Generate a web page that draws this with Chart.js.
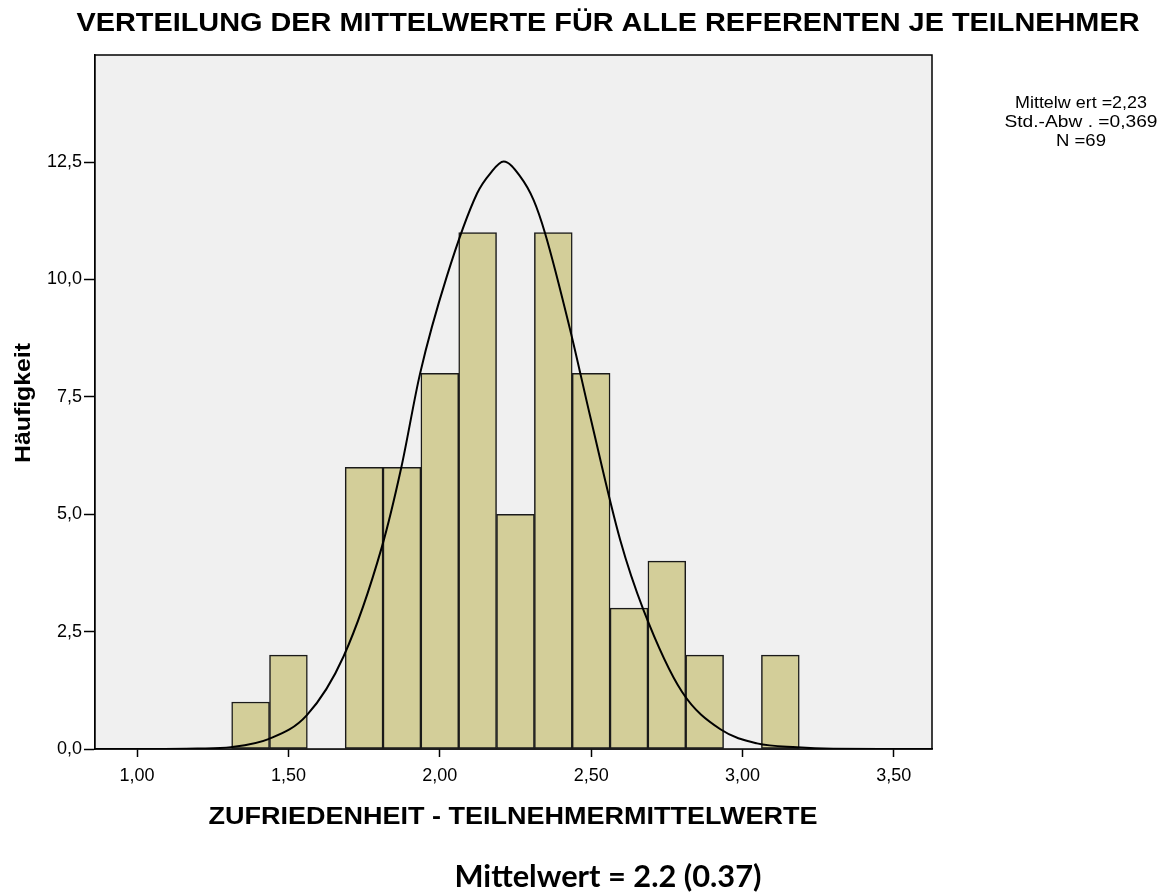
<!DOCTYPE html>
<html>
<head>
<meta charset="utf-8">
<script src="https://cdn.jsdelivr.net/npm/chart.js@4"></script>
<style>
  html, body { margin: 0; padding: 0; background: #fff; }
  #wrap { width: 1165px; height: 893px; }
</style>
</head>
<body>
<div id="wrap"><canvas id="myChart" width="1165" height="893"></canvas></div>
<script>
// histogram bins (centres, width 0.125) and counts
var binCenters = [1.375, 1.5, 1.625, 1.75, 1.875, 2.0, 2.125, 2.25, 2.375, 2.5, 2.625, 2.75, 2.875, 3.0, 3.125];
var counts = [1, 2, 0, 6, 6, 8, 11, 5, 11, 8, 3, 4, 2, 0, 2];

// normal curve, points
var curveX = [0.861, 1.0, 1.2, 1.31, 1.434, 1.561, 1.682, 1.809, 1.873, 1.935, 2.023, 2.123, 2.167, 2.211, 2.266, 2.310, 2.348, 2.431, 2.497, 2.596, 2.673, 2.800, 2.927, 3.048, 3.18, 3.3, 3.5, 3.626];
var curveY = [0, 0, 0.01, 0.04, 0.21, 0.72, 1.97, 4.31, 6.0, 8.0, 10.06, 11.83, 12.26, 12.51, 12.19, 11.69, 10.98, 8.92, 7.08, 4.45, 2.96, 1.22, 0.42, 0.12, 0.036, 0.005, 0, 0];

var xTicks = [1.0, 1.5, 2.0, 2.5, 3.0, 3.5];
var yTicks = [0, 2.5, 5.0, 7.5, 10.0, 12.5];

var titleText = "VERTEILUNG DER MITTELWERTE FÜR ALLE REFERENTEN JE TEILNEHMER";
var xTitle = "ZUFRIEDENHEIT - TEILNEHMERMITTELWERTE";
var yTitle = "Häufigkeit";
var statsLines = ["Mittelw ert =2,23", "Std.-Abw . =0,369", "N =69"];
var footText = "Mittelwert = 2.2 (0.37)";

// squeeze/stretch text to a given width (SPSS export looks condensed)
function fitText(ctx, text, cx, cy, font, w) {
    ctx.font = font;
    var m = ctx.measureText(text).width;
    ctx.save();
    ctx.translate(cx, cy);
    ctx.scale(w / m, 1);
    ctx.fillText(text, 0, 0);
    ctx.restore();
}

var frame = {
    id: 'frame',
    beforeDatasetsDraw: function(chart) {
        var a = chart.chartArea, ctx = chart.ctx;
        ctx.save();
        ctx.fillStyle = '#f0f0f0';
        ctx.fillRect(a.left, a.top, a.right - a.left, a.bottom - a.top);
        ctx.restore();
    },
    afterDraw: function(chart) {
        var a = chart.chartArea, ctx = chart.ctx;
        ctx.save();
        ctx.strokeStyle = '#000';
        ctx.lineWidth = 1.5;
        ctx.strokeRect(a.left, a.top, a.right - a.left, a.bottom - a.top);

        ctx.fillStyle = '#000';
        ctx.textAlign = 'center';
        ctx.textBaseline = 'middle';
        fitText(ctx, titleText, 608, 24, 'bold 26px "Liberation Sans", Arial', 1063);
        fitText(ctx, xTitle, 513, 817, 'bold 24px "Liberation Sans", Arial', 609);
        fitText(ctx, footText, 608, 877, 'bold 30px Lato, "Open Sans"', 307);

        var statW = [132, 153, 50];
        for (var i = 0; i < statsLines.length; i++) {
            fitText(ctx, statsLines[i], 1081, 103 + i * 19, '17px "Liberation Sans", Arial', statW[i]);
        }

        ctx.save();
        ctx.translate(24, 403);
        ctx.rotate(-Math.PI / 2);
        fitText(ctx, yTitle, 0, 0, 'bold 22px "Liberation Sans", Arial', 120);
        ctx.restore();
        ctx.restore();
    }
};

var ctx = document.getElementById('myChart').getContext('2d');
var chart = new Chart(ctx, {
    type: 'bar',
    data: {
        datasets: [{
            type: 'line',
            data: curveX.map(function(x, i) { return {x: x, y: curveY[i]}; }),
            borderColor: '#000',
            borderWidth: 2,
            pointRadius: 0,
            fill: false,
            cubicInterpolationMode: 'monotone',
            order: 0
        }, {
            type: 'bar',
            data: binCenters.map(function(x, i) { return {x: x, y: counts[i]}; }),
            backgroundColor: 'rgb(211,206,153)',
            borderColor: '#1a1a1a',
            borderWidth: 1.5,
            borderSkipped: false,
            barPercentage: 1.0,
            categoryPercentage: 1.0,
            order: 1
        }]
    },
    options: {
        responsive: false,
        animation: false,
        layout: { padding: { left: 0, top: 55, right: 233, bottom: 0 } },
        plugins: {
            legend: { display: false },
            tooltip: { enabled: false },
            title: { display: false }
        },
        scales: {
            x: {
                type: 'linear',
                offset: false,
                min: 0.861,
                max: 3.626,
                afterBuildTicks: function(scale) {
                    scale.ticks = xTicks.map(function(v) { return {value: v}; });
                },
                afterFit: function(scale) { scale.height = 144; },
                grid: { drawOnChartArea: false, offset: false, color: '#000', tickLength: 8, tickWidth: 1.5 },
                border: { display: true, color: '#000', width: 1.5 },
                ticks: {
                    color: '#000',
                    padding: 8,
                    maxRotation: 0,
                    autoSkip: false,
                    font: { family: '"Liberation Sans", Arial', size: 18 },
                    callback: function(v) { return v.toFixed(2).replace('.', ','); }
                }
            },
            y: {
                min: 0,
                max: 14.78,
                afterBuildTicks: function(scale) {
                    scale.ticks = yTicks.map(function(v) { return {value: v}; });
                },
                afterFit: function(scale) { scale.width = 95; },
                grid: { drawOnChartArea: false, color: '#000', tickLength: 11, tickWidth: 1.5 },
                border: { display: true, color: '#000', width: 1.5 },
                ticks: {
                    color: '#000',
                    padding: 2,
                    autoSkip: false,
                    font: { family: '"Liberation Sans", Arial', size: 18 },
                    callback: function(v) { return v.toFixed(1).replace('.', ','); }
                }
            }
        }
    },
    plugins: [frame]
});
</script>
</body>
</html>
